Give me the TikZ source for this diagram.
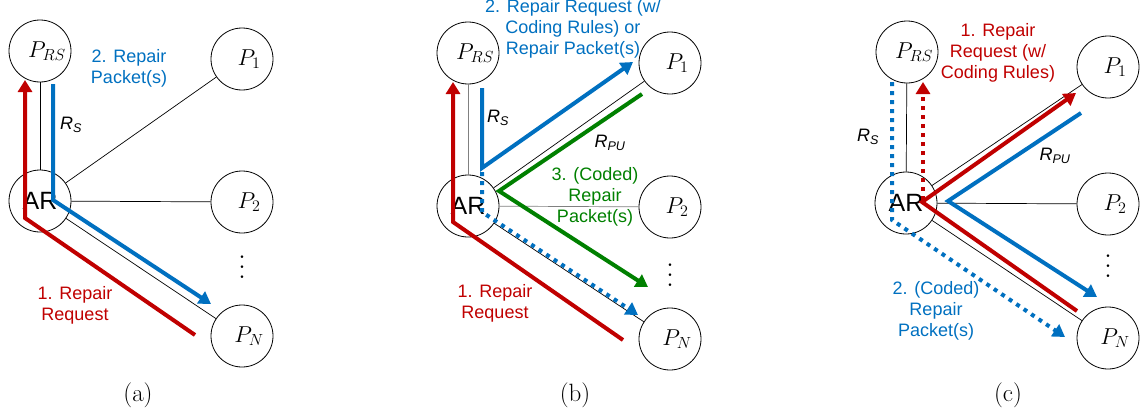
\RequirePackage{fix-cm}
\documentclass[tikz,border=0pt]{standalone}
\usepackage{fontspec}
\newfontfamily\arial{Liberation Sans}
\usepackage{xcolor}
\usepackage{tikz}
\usetikzlibrary{arrows.meta}
\definecolor{reqred}{RGB}{192,0,0}
\definecolor{pktblue}{RGB}{0,112,192}
\definecolor{codgreen}{RGB}{0,128,0}

\begin{document}
\begin{tikzpicture}
    [
      x = 1pt, y = -1pt,
      peer/.style = {draw, circle, minimum size=62pt, inner sep=0pt, line width=0.8pt, label={[peertext]center:#1}},
      peertext/.style = {font=\fontsize{23}{23}\selectfont, xshift=7pt},
      router/.style = {draw, circle, minimum size=62pt, inner sep=0pt, line width=0.8pt, font=\arial\fontsize{25}{25}\selectfont},
      link/.style = {line width=0.7pt},
      flow/.style = {line width=4pt, -{Triangle[length=12pt,width=14pt]}},
      dotflow/.style = {flow, dash pattern=on 4pt off 5pt},
      msg/.style = {font=\arial\fontsize{18}{21}\selectfont, align=center},
      rate/.style = {font=\arial\itshape\fontsize{18}{18}\selectfont},
      more/.style = {inner sep=0pt},
      caption/.style = {font=\fontsize{25}{25}\selectfont},
    ]
    \useasboundingbox (0,0) rectangle (1143,415);

    % (a)
    \node[peer={$P_{RS}$}] (rs-a) at (40,51)   {};
    \node[router]          (ar-a) at (40,201)  {AR};
    \node[peer={$P_1$}]    (p1-a) at (242,59)  {};
    \node[peer={$P_2$}]    (p2-a) at (242,202) {};
    \node[peer={$P_N$}]    (pn-a) at (242,336) {};
    \node[more]    (vd-a) at (242,260) {\scalebox{2.5}{$\vdots$}};
    \node[caption] (cap-a) at (138,395) {(a)};
    \draw[link] (rs-a) -- (ar-a);
    \draw[link] (ar-a) -- (p1-a);
    \draw[link] (ar-a) -- (p2-a);
    \draw[link] (ar-a) -- (pn-a);
    \draw[flow, reqred]  (195,335) -- (25,218) -- (25,80);
    \draw[flow, pktblue] (53,84) -- (53,200) -- (211,304);
    \node[msg, pktblue] (m2-a) at (129,68)  {2. Repair\\Packet(s)};
    \node[msg, reqred]  (m1-a) at (75,305)  {1. Repair\\Request};
    \node[rate]         (rs-ra) at (71,125) {R\textsubscript{S}};

    % (b)
    \node[peer={$P_{RS}$}] (rs-b) at (468,53)  {};
    \node[router]          (ar-b) at (468,206) {AR};
    \node[peer={$P_1$}]    (p1-b) at (670,63)  {};
    \node[peer={$P_2$}]    (p2-b) at (670,207) {};
    \node[peer={$P_N$}]    (pn-b) at (670,339) {};
    \node[more]    (vd-b) at (670,268) {\scalebox{2.5}{$\vdots$}};
    \node[caption] (cap-b) at (575,395) {(b)};
    \draw[link, gray] (rs-b) -- (ar-b);
    \draw[link] (ar-b) -- (p1-b);
    \draw[link, gray] (ar-b) -- (p2-b);
    \draw[link] (ar-b) -- (pn-b);
    \draw[flow, reqred]     (623,340) -- (453,222) -- (453,82);
    \draw[flow, pktblue]    (482,88) -- (482,168) -- (633,62);
    \draw[dotflow, pktblue] (482,172) -- (482,212) -- (638,315);
    \draw[flow, codgreen]   (642,94) -- (499,191) -- (648,287);
    \node[msg, pktblue]  (m2-b) at (573,29)  {2. Repair Request (w/\\Coding Rules) or\\Repair Packet(s)};
    \node[msg, codgreen] (m3-b) at (595,197) {3. (Coded)\\Repair\\Packet(s)};
    \node[msg, reqred]   (m1-b) at (495,303) {1. Repair\\Request};
    \node[rate]          (rs-rb) at (498,118) {R\textsubscript{S}};
    \node[rate]          (pu-rb) at (610,143) {R\textsubscript{PU}};

    % (c)
    \node[peer={$P_{RS}$}] (rs-c) at (907,52)   {};
    \node[router]          (ar-c) at (906,203)  {AR};
    \node[peer={$P_1$}]    (p1-c) at (1108,67)  {};
    \node[peer={$P_2$}]    (p2-c) at (1108,204) {};
    \node[peer={$P_N$}]    (pn-c) at (1108,338) {};
    \node[more]    (vd-c) at (1108,259) {\scalebox{2.5}{$\vdots$}};
    \node[caption] (cap-c) at (1008,395) {(c)};
    \draw[link] (rs-c) -- (ar-c);
    \draw[link] (ar-c) -- (p1-c);
    \draw[link] (ar-c) -- (p2-c);
    \draw[link] (ar-c) -- (pn-c);
    \draw[dotflow, reqred]  (923,200) -- (923,82);
    \draw[dotflow, pktblue] (892,82) -- (892,220) -- (1065,337);
    \draw[flow, reqred]     (1077,311) -- (922,202) -- (1076,93);
    \draw[flow, pktblue]    (1081,113) -- (948,201) -- (1097,297);
    \node[msg, reqred]  (m1-c) at (998,53)  {1. Repair\\Request (w/\\Coding Rules)};
    \node[msg, pktblue] (m2-c) at (936,311) {2. (Coded)\\Repair\\Packet(s)};
    \node[rate]         (rs-rc) at (868,137)  {R\textsubscript{S}};
    \node[rate]         (pu-rc) at (1055,156) {R\textsubscript{PU}};
  \end{tikzpicture}
\end{document}
